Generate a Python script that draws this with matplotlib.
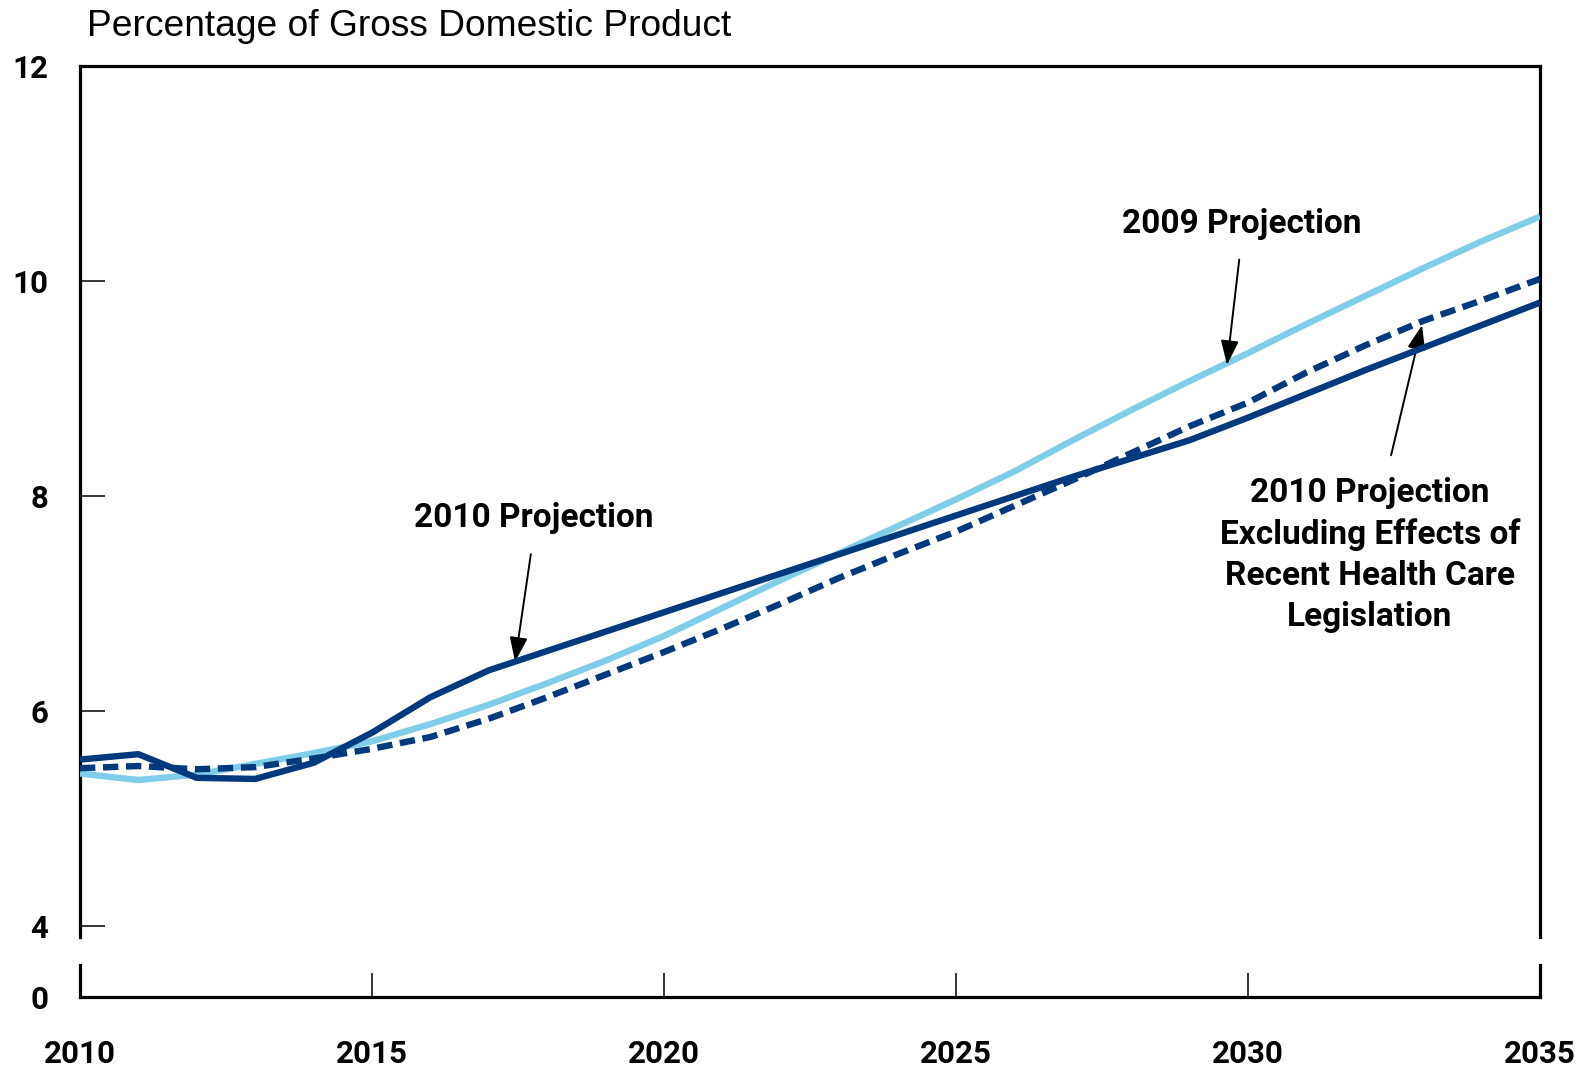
import matplotlib
matplotlib.use("Agg")
import matplotlib.pyplot as plt

years = list(range(2010, 2036))
proj_2009 = [5.42, 5.36, 5.41, 5.51, 5.61, 5.72, 5.88, 6.06, 6.26, 6.47, 6.70, 6.96, 7.22,
             7.47, 7.72, 7.97, 8.23, 8.52, 8.80, 9.07, 9.33, 9.60, 9.86, 10.12, 10.37, 10.60]
proj_2010 = [5.55, 5.60, 5.38, 5.37, 5.52, 5.80, 6.13, 6.38, 6.56, 6.74, 6.92, 7.10, 7.28,
             7.46, 7.64, 7.82, 8.00, 8.18, 8.35, 8.52, 8.73, 8.95, 9.17, 9.38, 9.59, 9.80]
proj_2010_excl = [5.47, 5.49, 5.46, 5.48, 5.56, 5.65, 5.76, 5.93, 6.13, 6.34, 6.55, 6.77, 7.00,
                  7.24, 7.46, 7.67, 7.91, 8.15, 8.40, 8.65, 8.87, 9.15, 9.40, 9.63, 9.82, 10.02]
y_ticks = [4, 6, 8, 10, 12]
x_ticks = [2010, 2015, 2020, 2025, 2030, 2035]

DARK = '#003A7D'
LIGHT = '#80CDEA'
BOLD = ['Roboto', 'DejaVu Sans']

W, H = 1585, 1068
fig = plt.figure(figsize=(W / 100, H / 100), dpi=100)

def ax_rect(x0, y0, x1, y1):
    return [x0 / W, 1 - y1 / H, (x1 - x0) / W, (y1 - y0) / H]

# upper panel
ax = fig.add_axes(ax_rect(80, 66, 1540, 937))
ax.set_xlim(2010, 2035)
ax.set_ylim(3.9, 12)
ax.plot(years, proj_2009, color=LIGHT, lw=4.6, solid_capstyle='butt', zorder=3)
ax.plot(years, proj_2010, color=DARK, lw=4.6, solid_capstyle='butt', zorder=4)
ax.plot(years, proj_2010_excl, color=DARK, lw=4.6, dashes=(2.4, 1.2), dash_capstyle='butt', zorder=5)
ax.spines['bottom'].set_visible(False)
for s in ['top', 'left', 'right']:
    ax.spines[s].set_linewidth(2.3)
ax.set_xticks([])
ax.set_yticks(y_ticks)
ax.set_yticklabels([str(t) for t in y_ticks], family=BOLD, fontweight='bold', fontsize=22.5)
ax.tick_params(axis='y', direction='in', length=18, width=1.1, pad=23)

fig.text(87 / W, 1 - 26 / H, 'Percentage of Gross Domestic Product', family='Liberation Sans',
         fontsize=26.7, va='center', ha='left')

# annotation texts
ax.text(2017.77, 7.80, '2010 Projection', family=BOLD, fontweight='bold', fontsize=24,
        ha='center', va='center')
ax.text(2029.9, 10.53, '2009 Projection', family=BOLD, fontweight='bold', fontsize=24,
        ha='center', va='center')
ax.text(2032.09, 7.45, '2010 Projection\nExcluding Effects of\nRecent Health Care\nLegislation',
        family=BOLD, fontweight='bold', fontsize=24, ha='center', va='center', linespacing=1.36)

# arrows
arrow_kw = dict(arrowstyle='-|>,head_length=1.5,head_width=0.55', color='black', lw=1.4,
                shrinkA=0, shrinkB=0)
ax.annotate('', xy=(2017.45, 6.46), xytext=(2017.72, 7.46), arrowprops=arrow_kw)
ax.annotate('', xy=(2029.64, 9.22), xytext=(2029.85, 10.20), arrowprops=arrow_kw)
ax.annotate('', xy=(2032.98, 9.59), xytext=(2032.45, 8.38), arrowprops=arrow_kw)

# lower panel
ax2 = fig.add_axes(ax_rect(80, 965, 1540, 997))
ax2.set_xlim(2010, 2035)
ax2.set_ylim(0, 1)
ax2.spines['top'].set_visible(False)
for s in ['bottom', 'left', 'right']:
    ax2.spines[s].set_linewidth(2.3)
ax2.set_yticks([0])
ax2.set_yticklabels(['0'], family=BOLD, fontweight='bold', fontsize=22.5)
ax2.tick_params(axis='y', length=0, pad=23)
ax2.set_xticks(x_ticks)
ax2.set_xticklabels([str(t) for t in x_ticks], family=BOLD, fontweight='bold', fontsize=22.5)
ax2.tick_params(axis='x', direction='in', length=17.5, width=1.1, pad=30)

fig.savefig('out.png', dpi=100)
